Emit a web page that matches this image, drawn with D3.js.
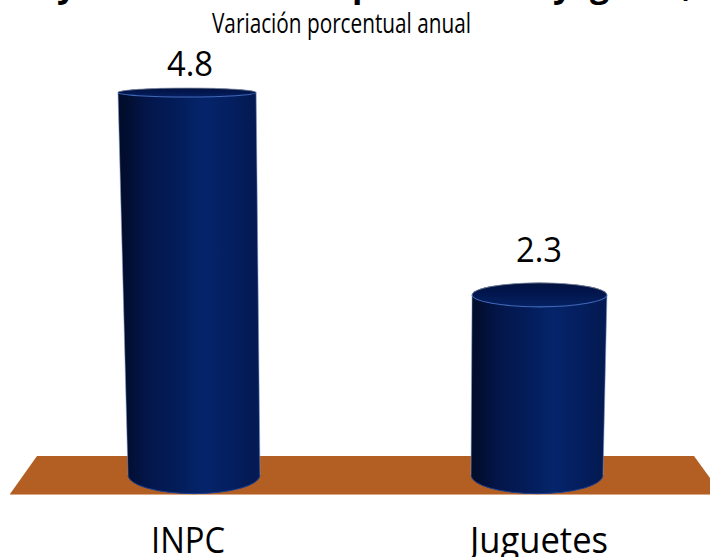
<!DOCTYPE html>
<html><head><meta charset="utf-8">
<script src="https://cdn.jsdelivr.net/npm/d3@7"></script>
<style>html,body{margin:0;padding:0;background:#fff}svg{display:block}text{fill:#000}</style>
</head><body><svg width="710" height="557"></svg>
<script>
const categories = ["INPC", "Juguetes"];
const values = [4.8, 2.3];
const valueLabels = ["4.8", "2.3"];
const subtitleText = "Variación porcentual anual";
// Only the descenders of the cropped title are visible; the wording is a best guess.
const titleWords = ["Inflación", "y", "variación de", "precios", "año", "y", "gasto,"];

const svg = d3.select("svg");
const font = "'Open Sans','Noto Sans',sans-serif";
const sideY = 475;
const y = d3.scaleLinear().domain([0, 4.8]).range([481, 92.5]);
const x = d3.scalePoint().domain(categories).range([194, 537]);
const labelX = d3.scalePoint().domain(categories).range([188, 539]);
const valueX = d3.scalePoint().domain(categories).range([190, 539]);
const vanishX = 388;
const ry = py => 4.5 + 0.037 * (py - 92.5);

const defs = svg.append("defs");
const grad = defs.append("linearGradient").attr("id", "cyl").attr("x1", 0).attr("x2", 1).attr("y1", 0).attr("y2", 0);
[[0, "#020c2a"], [0.06, "#020e30"], [0.2, "#03164a"], [0.4, "#031c58"], [0.6, "#05246a"], [0.8, "#041f60"], [0.95, "#031a52"], [1, "#041c58"]]
  .forEach(s => grad.append("stop").attr("offset", s[0]).attr("stop-color", s[1]));
const capGrad = defs.append("linearGradient").attr("id", "cap").attr("x1", 0).attr("x2", 0).attr("y1", 0).attr("y2", 1);
[[0, "#021240"], [0.5, "#021750"], [1, "#052263"]]
  .forEach(s => capGrad.append("stop").attr("offset", s[0]).attr("stop-color", s[1]));

// floor
svg.append("path").attr("fill", "#b35f24")
  .attr("d", "M37 456 L694 456 L710 478 L710 494 L10 494 Z");
svg.append("path").attr("fill", "none").attr("stroke", "#d9a987").attr("stroke-width", 1)
  .attr("d", "M10 494.5 L710 494.5");

categories.forEach((c, i) => {
  const botCx = x(c), topY = y(values[i]);
  const h = sideY - topY;
  const topCx = botCx + 9.35e-5 * h * (botCx - vanishX);
  const botRx = 66, topRx = botRx + 0.008 * h;
  const topRy = ry(topY), botRy = ry(sideY);

  svg.append("path").attr("fill", "url(#cyl)")
    .attr("d", `M${topCx - topRx} ${topY} L${botCx - botRx} ${sideY}
      A${botRx} ${botRy} 0 0 0 ${botCx + botRx} ${sideY}
      L${topCx + topRx} ${topY} A${topRx} ${topRy} 0 0 0 ${topCx - topRx} ${topY} Z`);
  // pale side edges
  svg.append("path").attr("fill", "none").attr("stroke", "#7f95c8").attr("stroke-width", 1).attr("stroke-opacity", 0.55)
    .attr("d", `M${topCx - topRx} ${topY} L${botCx - botRx} ${sideY} M${topCx + topRx} ${topY} L${botCx + botRx} ${sideY}`);
  // bottom rim
  svg.append("path").attr("fill", "none").attr("stroke", "#1d3f8f").attr("stroke-width", 1)
    .attr("d", `M${botCx - botRx} ${sideY} A${botRx} ${botRy} 0 0 0 ${botCx + botRx} ${sideY}`);
  // cap
  svg.append("ellipse").attr("cx", topCx).attr("cy", topY).attr("rx", topRx).attr("ry", topRy)
    .attr("fill", "url(#cap)");
  svg.append("path").attr("fill", "none").attr("stroke", "#8d95a8").attr("stroke-width", 0.8)
    .attr("d", `M${topCx - topRx} ${topY} A${topRx} ${topRy} 0 0 1 ${topCx + topRx} ${topY}`);
  svg.append("path").attr("fill", "none").attr("stroke", "#4268b8").attr("stroke-width", 1.1)
    .attr("d", `M${topCx - topRx} ${topY} A${topRx} ${topRy} 0 0 0 ${topCx + topRx} ${topY}`);

  svg.append("text").attr("x", valueX(c)).attr("y", topY - (6.6 + 2.2 * topRy))
    .attr("text-anchor", "middle").attr("font-family", font).attr("font-size", 34)
    .attr("textLength", 46).attr("lengthAdjust", "spacingAndGlyphs")
    .text(valueLabels[i]);
  svg.append("text").attr("x", labelX(c)).attr("y", 553)
    .attr("text-anchor", "middle").attr("font-family", font).attr("font-size", 36)
    .attr("textLength", i === 0 ? 74 : 138).attr("lengthAdjust", "spacingAndGlyphs")
    .text(c);
});

svg.append("text").attr("x", 341.5).attr("y", 33).attr("text-anchor", "middle")
  .attr("font-family", font).attr("font-size", 27.5)
  .attr("textLength", 259).attr("lengthAdjust", "spacingAndGlyphs").text(subtitleText);

const titleX = [-105, 57, 105, 352, 484, 553, 590];
const title = svg.append("text").attr("y", -3).attr("font-family", font)
  .attr("font-weight", 700).attr("font-size", 34);
titleWords.forEach((w, i) => title.append("tspan").attr("x", titleX[i]).text(w));
</script></body></html>
